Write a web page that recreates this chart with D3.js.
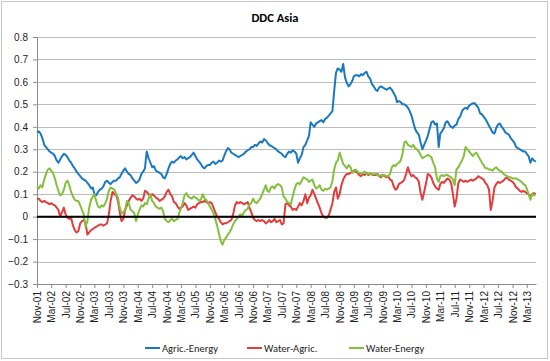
<!DOCTYPE html>
<html>
<head>
<meta charset="utf-8">
<script src="https://cdn.jsdelivr.net/npm/d3@7"></script>
<style>
  body { margin: 0; background: #fff; }
  svg { font-family: Carlito, Calibri, Lato, sans-serif; }
</style>
</head>
<body>
<div id="chart"></div>
<script>
// two readings per month (1st and 16th), Nov-01 .. mid May-13
// one row = Nov..Oct of a year
const agricEnergy = [
  0.375,0.38,0.37,0.35,0.32,0.31,0.30,0.29,0.285,0.28,0.27,0.25,0.24,0.255,0.27,0.28,0.275,0.265,0.25,0.24,0.225,0.215,0.20,0.19,
  0.18,0.17,0.165,0.16,0.15,0.14,0.125,0.13,0.10,0.095,0.11,0.12,0.125,0.135,0.155,0.16,0.15,0.145,0.155,0.16,0.16,0.17,0.175,0.19,
  0.205,0.215,0.20,0.19,0.185,0.17,0.16,0.15,0.155,0.165,0.19,0.20,0.215,0.29,0.26,0.24,0.22,0.225,0.205,0.20,0.195,0.19,0.175,0.17,
  0.19,0.215,0.235,0.245,0.24,0.25,0.255,0.265,0.27,0.26,0.265,0.255,0.26,0.265,0.275,0.285,0.27,0.255,0.245,0.235,0.22,0.215,0.225,0.23,
  0.23,0.24,0.245,0.235,0.24,0.25,0.245,0.25,0.27,0.29,0.305,0.30,0.285,0.28,0.275,0.27,0.265,0.27,0.275,0.28,0.29,0.295,0.30,0.31,
  0.31,0.32,0.315,0.325,0.335,0.33,0.345,0.34,0.33,0.32,0.315,0.31,0.305,0.30,0.29,0.285,0.28,0.27,0.265,0.28,0.29,0.285,0.295,0.29,
  0.28,0.24,0.26,0.275,0.31,0.32,0.34,0.36,0.42,0.41,0.40,0.415,0.42,0.425,0.43,0.42,0.435,0.44,0.45,0.46,0.47,0.56,0.64,0.66,
  0.655,0.645,0.68,0.62,0.595,0.58,0.59,0.605,0.625,0.63,0.63,0.625,0.635,0.63,0.64,0.645,0.625,0.615,0.59,0.58,0.565,0.56,0.575,0.58,
  0.575,0.57,0.565,0.57,0.575,0.565,0.55,0.535,0.51,0.515,0.51,0.50,0.50,0.495,0.485,0.47,0.45,0.42,0.39,0.375,0.365,0.33,0.30,0.32,
  0.34,0.36,0.39,0.42,0.425,0.41,0.415,0.31,0.37,0.38,0.395,0.42,0.425,0.41,0.40,0.395,0.405,0.41,0.435,0.445,0.47,0.48,0.485,0.48,
  0.495,0.50,0.505,0.505,0.495,0.485,0.46,0.455,0.445,0.435,0.42,0.405,0.39,0.375,0.37,0.395,0.41,0.415,0.40,0.39,0.375,0.37,0.365,0.35,
  0.34,0.33,0.31,0.305,0.30,0.295,0.29,0.29,0.28,0.27,0.24,0.26,0.25,0.245
];
const waterAgric = [
  0.08,0.08,0.07,0.065,0.07,0.065,0.06,0.055,0.06,0.055,0.05,0.04,0.03,0.0,0.02,0.04,0.01,-0.005,-0.01,-0.005,-0.04,-0.06,-0.07,-0.065,
  -0.03,-0.02,-0.015,-0.03,-0.08,-0.07,-0.06,-0.055,-0.05,-0.045,-0.04,-0.035,-0.035,-0.04,-0.035,-0.03,0.01,0.07,0.11,0.10,0.095,0.07,0.02,-0.02,
  -0.01,0.03,0.05,0.07,0.085,0.095,0.09,0.08,0.075,0.08,0.07,0.08,0.115,0.11,0.10,0.09,0.10,0.095,0.085,0.08,0.07,0.075,0.08,0.09,
  0.11,0.12,0.10,0.09,0.065,0.06,0.045,0.035,0.04,0.045,0.06,0.05,0.03,0.035,0.04,0.045,0.04,0.055,0.06,0.065,0.065,0.07,0.065,0.06,
  0.065,0.06,0.04,0.02,0.0,-0.01,-0.025,-0.035,-0.03,-0.03,-0.025,-0.02,-0.015,0.01,0.05,0.065,0.06,0.065,0.06,0.055,0.06,0.065,0.04,0.02,
  -0.005,-0.015,-0.02,-0.015,-0.02,-0.015,-0.02,-0.03,-0.025,-0.015,-0.025,-0.02,-0.01,-0.025,-0.02,-0.015,-0.035,-0.03,0.055,0.06,0.05,0.045,0.03,0.035,
  0.03,0.045,0.06,0.05,0.07,0.10,0.06,0.085,0.095,0.12,0.10,0.08,0.06,0.04,0.015,0.0,-0.005,-0.005,0.005,0.03,0.06,0.11,0.13,0.08,
  0.10,0.14,0.165,0.18,0.19,0.19,0.195,0.20,0.205,0.20,0.195,0.185,0.18,0.19,0.185,0.195,0.185,0.19,0.19,0.185,0.185,0.19,0.18,0.175,
  0.185,0.18,0.175,0.18,0.165,0.16,0.135,0.12,0.125,0.145,0.15,0.155,0.165,0.19,0.22,0.195,0.18,0.185,0.175,0.17,0.155,0.105,0.075,0.11,
  0.15,0.19,0.185,0.175,0.15,0.135,0.125,0.12,0.145,0.155,0.15,0.16,0.17,0.165,0.15,0.10,0.045,0.08,0.15,0.165,0.16,0.155,0.16,0.155,
  0.16,0.165,0.16,0.165,0.17,0.18,0.175,0.17,0.165,0.15,0.14,0.12,0.03,0.07,0.13,0.145,0.155,0.15,0.155,0.16,0.17,0.175,0.165,0.16,
  0.155,0.145,0.13,0.125,0.115,0.11,0.115,0.11,0.105,0.10,0.09,0.10,0.105,0.10
];
const waterEnergy = [
  0.135,0.125,0.14,0.13,0.165,0.19,0.21,0.215,0.205,0.195,0.17,0.14,0.115,0.095,0.10,0.12,0.15,0.16,0.14,0.11,0.09,0.075,0.07,0.07,
  0.05,0.03,0.01,-0.045,-0.02,0.04,0.075,0.09,0.10,0.07,0.045,0.04,0.05,0.045,0.06,0.08,0.115,0.13,0.125,0.12,0.10,0.085,0.04,0.015,
  0.02,0.03,0.07,0.06,0.03,0.025,0.015,-0.02,0.01,0.03,0.05,0.045,0.06,0.055,0.08,0.10,0.07,0.06,0.045,0.04,0.035,0.04,0.025,-0.01,
  -0.02,-0.025,-0.015,-0.01,-0.02,-0.015,-0.01,0.02,0.035,0.06,0.095,0.105,0.09,0.085,0.08,0.09,0.085,0.08,0.07,0.075,0.10,0.08,0.075,0.06,
  0.045,0.03,0.015,-0.01,-0.04,-0.075,-0.11,-0.125,-0.105,-0.095,-0.08,-0.07,-0.055,-0.035,-0.02,-0.01,0.0,0.01,0.005,0.02,0.03,0.035,0.055,0.06,
  0.08,0.065,0.06,0.07,0.08,0.10,0.12,0.14,0.115,0.11,0.13,0.135,0.125,0.14,0.145,0.14,0.13,0.09,0.08,0.065,0.06,0.055,0.09,0.12,
  0.145,0.15,0.145,0.16,0.175,0.17,0.165,0.155,0.16,0.165,0.14,0.125,0.13,0.14,0.12,0.115,0.125,0.12,0.125,0.13,0.16,0.21,0.24,0.25,
  0.285,0.26,0.235,0.225,0.215,0.23,0.22,0.195,0.20,0.21,0.20,0.195,0.19,0.195,0.20,0.19,0.19,0.195,0.185,0.19,0.19,0.185,0.18,0.185,
  0.18,0.185,0.18,0.18,0.19,0.22,0.23,0.225,0.235,0.24,0.25,0.28,0.33,0.335,0.32,0.315,0.31,0.32,0.305,0.30,0.29,0.275,0.26,0.265,
  0.27,0.275,0.27,0.265,0.24,0.22,0.17,0.155,0.18,0.185,0.18,0.185,0.185,0.18,0.175,0.165,0.14,0.21,0.22,0.235,0.25,0.27,0.31,0.30,
  0.29,0.28,0.27,0.28,0.285,0.27,0.255,0.24,0.23,0.215,0.215,0.21,0.21,0.205,0.215,0.22,0.21,0.205,0.20,0.19,0.185,0.18,0.175,0.175,
  0.17,0.17,0.17,0.165,0.16,0.155,0.145,0.14,0.125,0.10,0.075,0.10,0.095,0.10
];
const seriesNames = ["Agric.-Energy", "Water-Agric.", "Water-Energy"];
const seriesColors = ["#1a78c2", "#e23c3c", "#85bf3e"];
const yTicks = [-0.3, -0.2, -0.1, 0, 0.1, 0.2, 0.3, 0.4, 0.5, 0.6, 0.7, 0.8];

const W = 550, H = 361;
const margin = {top: 37, right: 14, bottom: 77, left: 37};
const width = W - margin.left - margin.right,
  height = H - margin.top - margin.bottom;

// sample dates: 1st and 16th of each month from Nov 2001
const dates = agricEnergy.map((_, i) => new Date(2001, 10 + Math.floor(i / 2), i % 2 ? 16 : 1));

const svg = d3.select("#chart").append("svg")
  .attr("width", W).attr("height", H);

svg.append("rect")
  .attr("x", 1.5).attr("y", 1.5)
  .attr("width", W - 4).attr("height", H - 4)
  .attr("fill", "#fff").attr("stroke", "#c8c8c8");

svg.append("text")
  .attr("x", 275).attr("y", 22)
  .attr("text-anchor", "middle")
  .style("font-size", "12.5px").style("font-weight", "bold")
  .text("DDC Asia");

const g = svg.append("g").attr("transform", `translate(${margin.left},${margin.top})`);

const x = d3.scaleTime()
  .domain([new Date(2001, 10, 1), new Date(2013, 4, 18)])
  .range([0, width]);
const y = d3.scaleLinear().domain([-0.3, 0.8]).range([height, 0]);

// gridlines
g.append("g").selectAll("line")
  .data(yTicks.filter(d => d !== -0.3))
  .join("line")
  .attr("x1", 0).attr("x2", width)
  .attr("y1", d => Math.round(y(d)) + 0.5).attr("y2", d => Math.round(y(d)) + 0.5)
  .attr("stroke", "#bdbdbd").attr("stroke-width", 1);

// y axis
const yAxis = g.append("g")
  .call(d3.axisLeft(y).tickValues(yTicks).tickSize(4).tickPadding(5)
    .tickFormat(d => d === 0 ? "0" : d3.format(".1f")(d)));
yAxis.select(".domain").attr("stroke", "#8c8c8c");
yAxis.selectAll(".tick line").attr("stroke", "#8c8c8c");
yAxis.selectAll("text").style("font-size", "10px").attr("fill", "#222");

// x axis
const xTicks = d3.timeMonth.range(new Date(2001, 10, 1), new Date(2013, 4, 18), 4);
const xAxis = g.append("g")
  .attr("transform", `translate(0,${height})`)
  .call(d3.axisBottom(x).tickValues(xTicks).tickSize(4).tickSizeOuter(0)
    .tickFormat(d3.timeFormat("%b-%y")));
xAxis.select(".domain").attr("stroke", "#8c8c8c");
xAxis.selectAll(".tick line").attr("stroke", "#8c8c8c");
xAxis.selectAll("text")
  .style("font-size", "10px").attr("fill", "#222")
  .attr("transform", "rotate(-90)")
  .attr("text-anchor", "end")
  .attr("x", -7).attr("y", 0).attr("dy", "0.35em");

// series
const allSeries = [agricEnergy, waterAgric, waterEnergy];
const line = d3.line().x((d, i) => x(dates[i])).y(d => y(d));
allSeries.forEach((vals, k) => {
  g.append("path")
    .datum(vals)
    .attr("fill", "none")
    .attr("stroke", seriesColors[k])
    .attr("stroke-width", 2)
    .attr("stroke-linejoin", "round")
    .attr("d", line);
});

// zero line on top
g.append("line")
  .attr("x1", 0).attr("x2", width)
  .attr("y1", y(0)).attr("y2", y(0))
  .attr("stroke", "#000").attr("stroke-width", 2);

// legend
const legX = [145, 247, 349];
const legend = svg.append("g");
seriesNames.forEach((name, k) => {
  legend.append("line")
    .attr("x1", legX[k]).attr("x2", legX[k] + 15)
    .attr("y1", 348).attr("y2", 348)
    .attr("stroke", seriesColors[k]).attr("stroke-width", 2);
  legend.append("text")
    .attr("x", legX[k] + 17).attr("y", 348).attr("dy", "0.35em")
    .style("font-size", "10.5px").attr("fill", "#222")
    .text(name);
});
</script>
</body>
</html>
